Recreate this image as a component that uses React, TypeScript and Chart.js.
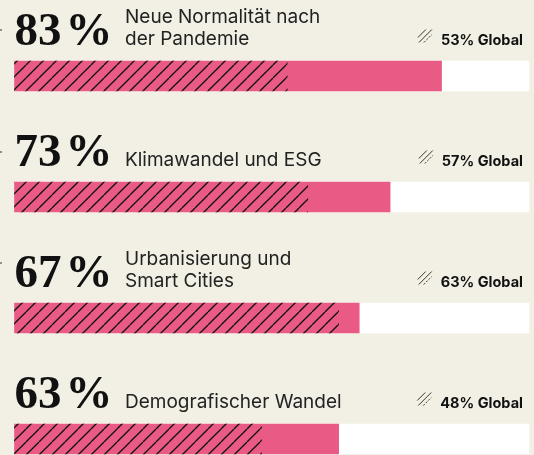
import { useEffect, useRef } from "react";
import { Chart, registerables } from "chart.js";

Chart.register(...registerables);

const categories: string[][] = [
  ["Neue Normalität nach", "der Pandemie"],
  ["Klimawandel und ESG"],
  ["Urbanisierung und", "Smart Cities"],
  ["Demografischer Wandel"],
];
const countryValues = [83, 73, 67, 63];
const globalValues = [53, 57, 63, 48];
const trackValues = [100, 100, 100, 100];

const BG = "#F2F0E4";
const PINK = "#E95A85";

function makeHatch(): CanvasPattern | string {
  const s = 13;
  const c = document.createElement("canvas");
  c.width = s;
  c.height = s;
  const g = c.getContext("2d");
  if (!g) return "rgba(0,0,0,0.3)";
  g.strokeStyle = "#111";
  g.lineWidth = 1.3;
  for (const o of [-s, 0, s]) {
    g.beginPath();
    g.moveTo(o, s);
    g.lineTo(o + s, 0);
    g.stroke();
  }
  const p = g.createPattern(c, "repeat");
  return p || "rgba(0,0,0,0.3)";
}

const overlayPlugin = {
  id: "overlayText",
  afterDatasetsDraw(chart: any) {
    const ctx: CanvasRenderingContext2D = chart.ctx;
    const xs = chart.scales.x;
    const ys = chart.scales.y;
    const dotOffsets = [-47, -46, -56];
    categories.forEach((lines, i) => {
      const cy = ys.getPixelForValue(i);
      const base = cy - 31;
      ctx.save();
      // small marks at the left edge
      if (i < dotOffsets.length) {
        ctx.fillStyle = "rgba(60,60,60,0.55)";
        ctx.fillRect(0, cy + dotOffsets[i], 2, 2);
      }
      ctx.textAlign = "left";
      ctx.textBaseline = "alphabetic";
      // big number
      ctx.fillStyle = "#111";
      ctx.font = "bold 47px 'Liberation Serif'";
      const num = String(countryValues[i]);
      ctx.fillText(num, xs.left, base);
      const w = ctx.measureText(num).width;
      ctx.fillText("%", xs.left + w + 4, base);
      // label
      ctx.fillStyle = "#222";
      ctx.font = "400 19px Inter";
      lines.forEach((t, k) => {
        ctx.fillText(t, xs.left + 110.5, base - (lines.length - 1 - k) * 22.5);
      });
      // global text
      ctx.font = "bold 14.5px Inter";
      ctx.textAlign = "right";
      ctx.fillStyle = "#111";
      const gt = globalValues[i] + "% Global";
      const gx = xs.right - 6;
      const gy = base - 0.5;
      ctx.fillText(gt, gx, gy);
      const gw = ctx.measureText(gt).width;
      // icon
      const ix = gx - gw - 23;
      const iy = gy - 16;
      ctx.strokeStyle = "#333";
      ctx.lineWidth = 1;
      ctx.beginPath();
      ctx.moveTo(ix, iy + 9);
      ctx.lineTo(ix + 8, iy + 1);
      ctx.moveTo(ix + 1, iy + 14);
      ctx.lineTo(ix + 14, iy + 1);
      ctx.stroke();
      ctx.setLineDash([2, 1.5]);
      ctx.beginPath();
      ctx.moveTo(ix + 6, iy + 14);
      ctx.lineTo(ix + 14, iy + 6);
      ctx.stroke();
      ctx.restore();
    });
  },
};

export default function App() {
  const ref = useRef<HTMLCanvasElement | null>(null);
  useEffect(() => {
    document.body.style.margin = "0";
    document.body.style.background = BG;
    const canvas = ref.current;
    if (!canvas) return;
    const hatch = makeHatch();
    const chart = new Chart(canvas, {
      type: "bar",
      data: {
        labels: categories.map((l) => l.join(" ")),
        datasets: [
          {
            label: "Global",
            data: globalValues,
            backgroundColor: hatch as any,
            grouped: false,
            barThickness: 30,
            borderWidth: 0,
            clip: false as any,
          },
          {
            label: "Deutschland",
            data: countryValues,
            backgroundColor: PINK,
            grouped: false,
            barThickness: 30,
            borderWidth: 0,
            clip: false as any,
          },
          {
            label: "Track",
            data: trackValues,
            backgroundColor: "#FFFFFF",
            grouped: false,
            barThickness: 30,
            borderWidth: 0,
            clip: false as any,
          },
        ],
      },
      options: {
        indexAxis: "y",
        responsive: false,
        animation: false,
        layout: { padding: { left: 14.5, right: 5, top: 76, bottom: 16 } },
        plugins: { legend: { display: false }, tooltip: { enabled: false } },
        scales: {
          x: { display: false, min: 0, max: 100 },
          y: { display: false, offset: false },
        },
      },
      plugins: [overlayPlugin],
    });
    return () => chart.destroy();
  }, []);
  return (
    <div style={{ position: "absolute", left: 0, top: 0, width: 534, height: 455, background: BG }}>
      <canvas ref={ref} width={534} height={455} />
    </div>
  );
}
